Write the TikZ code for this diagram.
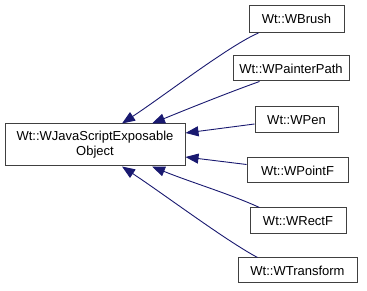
\documentclass[tikz,border=0pt]{standalone}
\usepackage{fontspec}
\setmainfont{Liberation Sans}
\usetikzlibrary{arrows.meta,calc}
\definecolor{edgeblue}{RGB}{25,25,112}
\definecolor{boxline}{RGB}{64,64,64}
\tikzset{
  classbox/.style={draw=boxline, line width=1pt, fill=white, inner sep=0pt,
    align=center, font=\fontsize{13}{15}\selectfont},
  inherit/.style={draw=edgeblue, line width=0.9pt,
    {Triangle[length=13pt,width=10pt]}-, }
}
\begin{document}
\begin{tikzpicture}[x=1pt,y=-1pt]
  \useasboundingbox (0,0) rectangle (367,291);
  % base class
  \node[classbox, minimum width=180pt, minimum height=42pt] (main) at (95,145)
    {Wt::WJavaScriptExposable\\Object};
  % derived classes
  \node[classbox, minimum width=95pt,  minimum height=27pt] (brush)     at (296.5,19)   {Wt::WBrush};
  \node[classbox, minimum width=116pt, minimum height=25pt] (painter)   at (291,68.5)   {Wt::WPainterPath};
  \node[classbox, minimum width=83pt,  minimum height=26pt] (pen)       at (296.5,120)  {Wt::WPen};
  \node[classbox, minimum width=101pt, minimum height=25pt] (pointf)    at (297.5,170.5){Wt::WPointF};
  \node[classbox, minimum width=96pt,  minimum height=26pt] (rectf)     at (298,221)    {Wt::WRectF};
  \node[classbox, minimum width=119pt, minimum height=25pt] (transform) at (297.5,270.5){Wt::WTransform};
  % inheritance arrows
  \draw[inherit] ($(main.north)+(27,0)$) .. controls (165,95) and (230,45) .. ($(brush.south west)+(10,0)$);
  \draw[inherit] ($(main.north)+(57,0)$) .. controls (190,108) and (230,92) .. ($(painter.south west)+(27,0)$);
  \draw[inherit] ($(main.east)+(0,-12)$) -- ($(pen.west)+(0,4)$);
  \draw[inherit] ($(main.east)+(0,12)$) -- ($(pointf.west)+(0,-6)$);
  \draw[inherit] ($(main.south)+(57,0)$) .. controls (190,182) and (230,194) .. ($(rectf.north west)+(10,0)$);
  \draw[inherit] ($(main.south)+(27,0)$) .. controls (165,195) and (225,240) .. ($(transform.north west)+(20,0)$);
\end{tikzpicture}
\end{document}
